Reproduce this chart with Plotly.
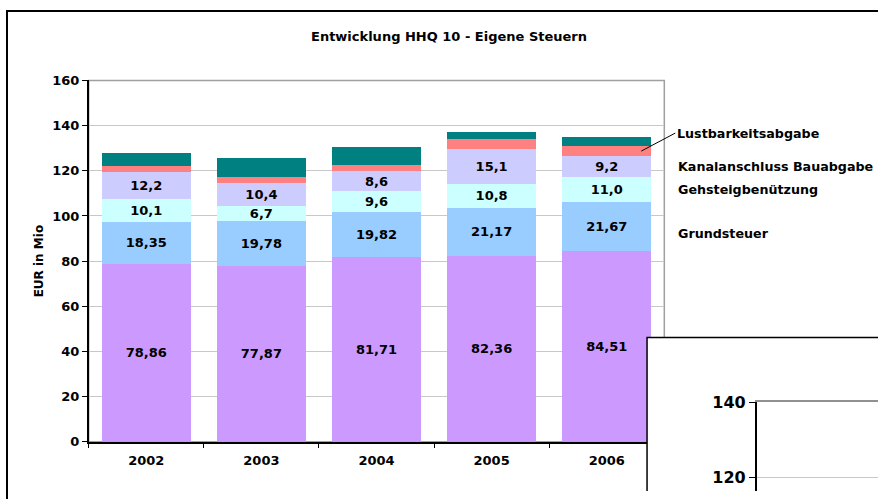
import numpy as np
import plotly.graph_objects as go

years = ["2002", "2003", "2004", "2005", "2006"]
# bottom series: its name is hidden behind the overlapping chart in the picture
base_tax = [78.86, 77.87, 81.71, 82.36, 84.51]
grundsteuer = [18.35, 19.78, 19.82, 21.17, 21.67]
gehsteig = [10.1, 6.7, 9.6, 10.8, 11.0]
kanal = [12.2, 10.4, 8.6, 15.1, 9.2]
lust = [2.7, 2.6, 3.0, 4.7, 4.7]
# top series, no label visible
other = [5.6, 8.1, 7.7, 3.0, 3.9]

W, H = 878, 499
FONT = "DejaVu Sans"

series = [
    (base_tax, "#CC99FF", "%{y:.2f}"),
    (grundsteuer, "#99CCFF", "%{y:.2f}"),
    (gehsteig, "#CCFFFF", "%{y:.1f}"),
    (kanal, "#CCCCFF", "%{y:.1f}"),
    (lust, "#FF8080", None),
    (other, "#008080", None),
]

fig = go.Figure()
for vals, col, fmt in series:
    fig.add_trace(go.Bar(
        x=years, y=vals, marker_color=col, marker_line_width=0,
        texttemplate=fmt if fmt else "", textposition="inside" if fmt else "none",
        insidetextanchor="middle", textangle=0,
        textfont=dict(family=FONT, size=13, color="black", weight="bold"),
        showlegend=False, hoverinfo="skip"))

# empty traces so the overlapping window (x2/y2) and its chart (x3/y3) get subplots
fig.add_trace(go.Scatter(x=[], y=[], xaxis="x2", yaxis="y2", showlegend=False))
fig.add_trace(go.Scatter(x=[], y=[], xaxis="x3", yaxis="y3", showlegend=False))

# series names next to the last column
stack = np.cumsum([base_tax, grundsteuer, gehsteig, kanal, lust], axis=0)
mids = stack[:, -1] - np.array([base_tax, grundsteuer, gehsteig, kanal, lust])[:, -1] / 2

lab_font = dict(family=FONT, size=12.7, color="black", weight="bold")
ann = []
for name, i, ys in [("Grundsteuer", 1, -7), ("Gehsteigbenützung", 2, 0),
                    ("Kanalanschluss Bauabgabe", 3, 0)]:
    ann.append(dict(text=name, xref="paper", yref="y", x=676 / W, y=mids[i], yshift=ys,
                    xanchor="left", yanchor="middle", showarrow=False, font=lab_font))
ann.append(dict(text="Lustbarkeitsabgabe", xref="x", yref="y", x=4.3, y=mids[4],
                showarrow=True, arrowhead=0, arrowwidth=1, arrowcolor="black",
                ax=34, ay=-18, xanchor="left", yanchor="middle", font=lab_font))
ann.append(dict(text="Entwicklung HHQ 10 - Eigene Steuern", xref="paper", yref="paper",
                x=449.5 / W, y=1 - 28 / H, xanchor="center", yanchor="middle",
                showarrow=False,
                font=dict(family=FONT, size=13, color="black", weight="bold")))

shapes = [
    # outer chart frame
    dict(type="rect", xref="paper", yref="paper", x0=7 / W, x1=1.2, y0=-0.2, y1=1 - 2 / H,
         line=dict(color="black", width=2), layer="below"),
    # plot area border (grey top / right)
    dict(type="rect", xref="x domain", yref="y domain", x0=0, x1=1, y0=0, y1=1,
         line=dict(color="#A0A0A0", width=1.5), layer="below"),
    # overlapping window, drawn in the x2/y2 subplot so it sits above the bars
    dict(type="rect", xref="x2", yref="y2", x0=0.013, x1=1.5, y0=-0.5, y1=0.981,
         line=dict(color="black", width=1.5), fillcolor="white", layer="below"),
]

hidden = dict(showgrid=False, showticklabels=False, zeroline=False, showline=False,
              ticks="", range=[0, 1], fixedrange=True)

fig.update_layout(
    barmode="stack", bargap=0.224,
    width=W, height=H, autosize=False,
    margin=dict(l=0, r=0, t=0, b=0),
    paper_bgcolor="white", plot_bgcolor="rgba(0,0,0,0)",
    separators=",.",
    uniformtext=dict(minsize=13, mode="show"),
    font=dict(family=FONT, size=13, color="black"),
    annotations=ann, shapes=shapes,
    xaxis=dict(domain=[88.7 / W, 664.3 / W], type="category", range=[-0.5, 4.5],
               autorange=False, tickson="boundaries",
               ticks="outside", ticklen=5, tickcolor="black", showline=True,
               linecolor="black", linewidth=1.5, showgrid=False,
               tickfont=dict(family=FONT, size=13, weight="bold"), ticklabelstandoff=6),
    yaxis=dict(domain=[1 - 448 / H, 1 - 74 / H], range=[0, 160], autorange=False, dtick=20,
               ticks="outside", ticklen=5, tickcolor="black", showline=True,
               linecolor="black", linewidth=1.5, gridcolor="#C8C8C8", gridwidth=1,
               zeroline=False, tickfont=dict(family=FONT, size=13, weight="bold"),
               title=dict(text="EUR in Mio", standoff=6,
                          font=dict(family=FONT, size=12, weight="bold"))),
    xaxis2=dict(domain=[644 / W, 1.0], anchor="y2", **hidden),
    yaxis2=dict(domain=[0, 1 - 337 / H], anchor="x2", **hidden),
    xaxis3=dict(domain=[756.7 / W, 1.0], range=[0, 1], anchor="y3", side="top",
                showline=True, linecolor="#909090", linewidth=1.5, showgrid=False,
                showticklabels=False, zeroline=False, ticks=""),
    yaxis3=dict(domain=[0, 1 - 407 / H], range=[116.41, 140], autorange=False, dtick=20,
                anchor="x3", ticks="outside", ticklen=6, tickcolor="black", showline=True,
                linecolor="black", linewidth=1.5, gridcolor="#C8C8C8", zeroline=False,
                tickfont=dict(family=FONT, size=16, weight="bold")),
)

fig.write_html("out.html", config={"displayModeBar": False},
               post_script="document.body.style.margin='0';document.body.style.overflow='hidden';")
